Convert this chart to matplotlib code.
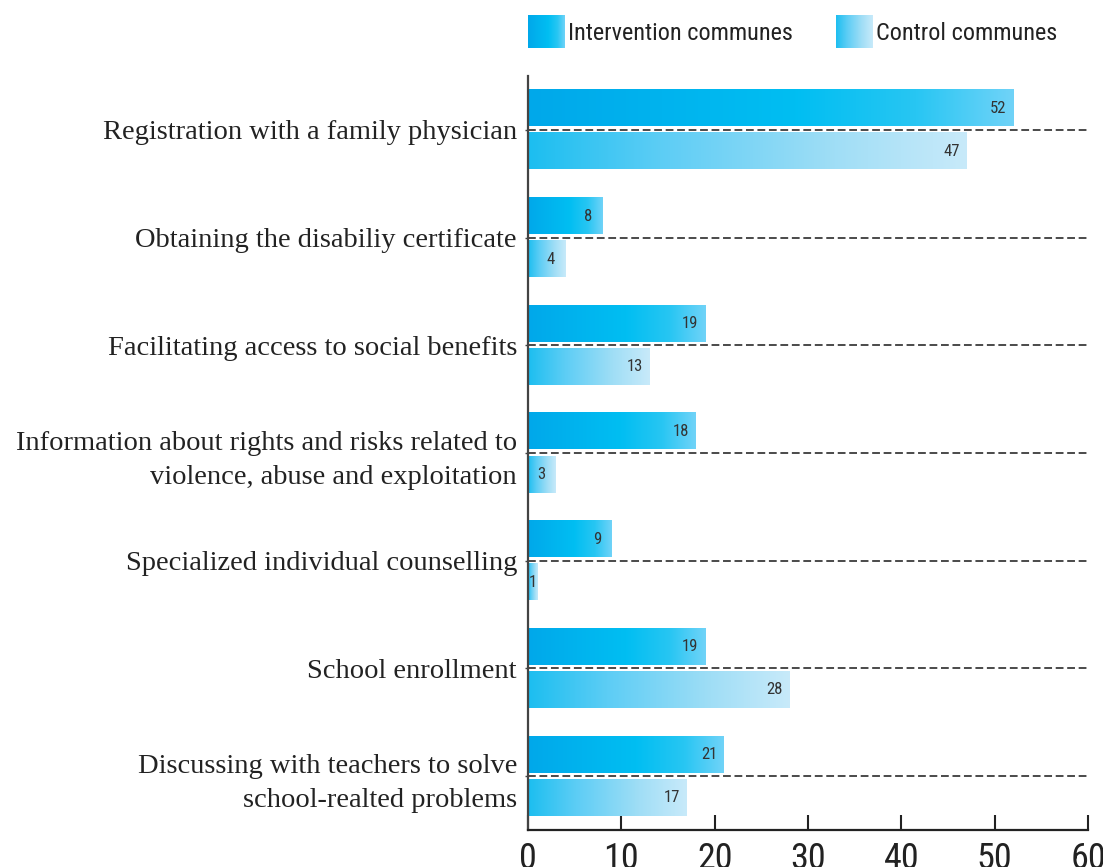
import numpy as np
import matplotlib.pyplot as plt
from matplotlib import font_manager
from matplotlib.colors import LinearSegmentedColormap

# Services accessed, intervention vs control communes
categories = [
    "Registration with a family physician",
    "Obtaining the disabiliy certificate",
    "Facilitating access to social benefits",
    "Information about rights and risks related to\nviolence, abuse and exploitation",
    "Specialized individual counselling",
    "School enrollment",
    "Discussing with teachers to solve\nschool-realted problems",
]
intervention = [52, 8, 19, 18, 9, 19, 21]
control = [47, 4, 13, 3, 1, 28, 17]
series_names = ["Intervention communes", "Control communes"]
xticks = [0, 10, 20, 30, 40, 50, 60]

installed = {f.name for f in font_manager.fontManager.ttflist}
narrow = [f for f in ["Liberation Sans Narrow", "Roboto Condensed", "Open Sans Condensed"] if f in installed]
sans = narrow + ["Liberation Sans", "DejaVu Sans"]
serif = ["Liberation Serif", "DejaVu Serif"]

# gradient colormaps for the two series
cmap_int = LinearSegmentedColormap.from_list("int", [
    (0.0, (0 / 255, 168 / 255, 234 / 255)),
    (0.55, (0 / 255, 190 / 255, 242 / 255)),
    (0.8, (40 / 255, 198 / 255, 243 / 255)),
    (1.0, (112 / 255, 211 / 255, 248 / 255)),
])
cmap_ctl = LinearSegmentedColormap.from_list("ctl", [
    (0.0, (28 / 255, 190 / 255, 240 / 255)),
    (0.3, (92 / 255, 205 / 255, 245 / 255)),
    (0.7, (160 / 255, 222 / 255, 246 / 255)),
    (1.0, (200 / 255, 234 / 255, 250 / 255)),
])
grad = np.linspace(0, 1, 256).reshape(1, -1)

fig = plt.figure(figsize=(11.03, 8.67), dpi=100)
ax = fig.add_axes([528 / 1103, 1 - 830 / 867, 560 / 1103, 754 / 867])

bar_h = 0.335
off = 0.2
y = np.arange(len(categories))

for i in range(len(categories)):
    for val, cm, dy in [(intervention[i], cmap_int, -off), (control[i], cmap_ctl, off)]:
        y0 = y[i] + dy - bar_h / 2
        y1 = y[i] + dy + bar_h / 2
        ax.imshow(grad, cmap=cm, extent=[0, val, y1, y0], aspect="auto",
                  interpolation="bicubic", zorder=2)
        tx = max(val - 1.6, 0.55)
        ax.text(tx, y[i] + dy, str(val), ha="center", va="center",
                fontsize=12, color="#333333", family=sans, zorder=3)
    # dashed separator between the pair of bars
    ax.plot([0, 60.2], [y[i], y[i]], color="#4a4a4a", lw=1.4,
            linestyle=(0, (4, 1.9)), clip_on=False, zorder=1)

ax.set_xlim(0, 60)
ax.set_ylim(len(categories) - 0.5, -0.5)

ax.set_yticks(y)
ax.set_yticklabels(categories, fontsize=20.5, family=serif, color="#222222",
                   linespacing=1.45)
ax.tick_params(axis="y", length=2, width=1, pad=6, color="#444444")

ax.set_xticks(xticks)
ax.set_xticklabels([str(t) for t in xticks], fontsize=26, family=sans, color="#222222")
ax.tick_params(axis="x", direction="in", length=11, width=1.5, pad=8, color="#222222")

for s in ["top", "right"]:
    ax.spines[s].set_visible(False)
ax.spines["left"].set_color("#444444")
ax.spines["left"].set_linewidth(1.6)
ax.spines["bottom"].set_color("#222222")
ax.spines["bottom"].set_linewidth(1.6)

# legend swatches with the same gradients
for x0, cm, name in [(528, cmap_int, series_names[0]), (836, cmap_ctl, series_names[1])]:
    sw = fig.add_axes([x0 / 1103, 1 - 48 / 867, 37 / 1103, 33 / 867])
    sw.imshow(grad, cmap=cm, aspect="auto", interpolation="bicubic")
    sw.axis("off")
    fig.text((x0 + 40) / 1103, 1 - 33 / 867, name, ha="left", va="center",
             fontsize=17.5, family=sans, color="#222222")

fig.savefig("out.png", dpi=100)
